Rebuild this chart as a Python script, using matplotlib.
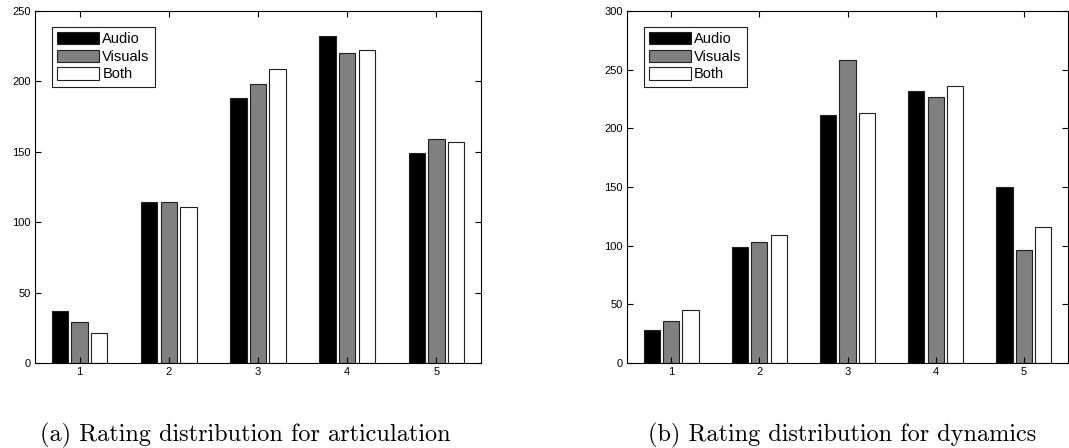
import matplotlib
matplotlib.use("Agg")
import matplotlib.pyplot as plt
import numpy as np

# Rating levels on the x axis
ratings = [1, 2, 3, 4, 5]
series = ["Audio", "Visuals", "Both"]

# (a) articulation
artic_audio = [37, 114, 188, 232, 149]
artic_visuals = [29, 114, 198, 220, 159]
artic_both = [21, 111, 209, 222, 157]

# (b) dynamics
dyn_audio = [28, 99, 211, 232, 150]
dyn_visuals = [36, 103, 258, 227, 96]
dyn_both = [45, 109, 213, 236, 116]

COLORS = ["#000000", "#808080", "#ffffff"]
TICK_FONT = "Liberation Sans"


def draw(ax, values, ymax):
    x = np.array(ratings, dtype=float)
    offsets = [-0.22, 0.0, 0.22]
    for vals, off, color, name in zip(values, offsets, COLORS, series):
        ax.bar(x + off, vals, width=0.185, color=color, edgecolor="#202020",
               linewidth=0.8, label=name)
    ax.set_xlim(0.5, 5.5)
    ax.set_ylim(0, ymax)
    ax.set_xticks(ratings)
    ax.set_yticks(np.arange(0, ymax + 1, 50))
    ax.tick_params(direction="in", length=4, width=0.8, top=True, right=True,
                   labelsize=8, pad=3)
    for lbl in ax.get_xticklabels() + ax.get_yticklabels():
        lbl.set_family(TICK_FONT)
    for sp in ax.spines.values():
        sp.set_linewidth(0.8)
    leg = ax.legend(loc="upper left", bbox_to_anchor=(0.038, 0.955),
                    prop={"family": TICK_FONT, "size": 10.5}, fancybox=False,
                    framealpha=1, edgecolor="#202020", handlelength=2.9,
                    handleheight=0.9, handletextpad=0.2, labelspacing=0.25,
                    borderpad=0.35, borderaxespad=0)
    leg.get_frame().set_linewidth(0.8)


fig = plt.figure(figsize=(10.69, 4.48), dpi=100)
ax1 = fig.add_axes([35 / 1069, 1 - 363 / 448, 446 / 1069, 352 / 448])
ax2 = fig.add_axes([627 / 1069, 1 - 363 / 448, 441 / 1069, 352 / 448])

draw(ax1, [artic_audio, artic_visuals, artic_both], 250)
draw(ax2, [dyn_audio, dyn_visuals, dyn_both], 300)

fig.text(40 / 1069, 1 - 441 / 448, "(a) Rating distribution for articulation",
         family="cmr10", fontsize=17.5, ha="left", va="baseline")
fig.text(648 / 1069, 1 - 441 / 448, "(b) Rating distribution for dynamics",
         family="cmr10", fontsize=17.5, ha="left", va="baseline")

fig.savefig("out.png", dpi=100)
